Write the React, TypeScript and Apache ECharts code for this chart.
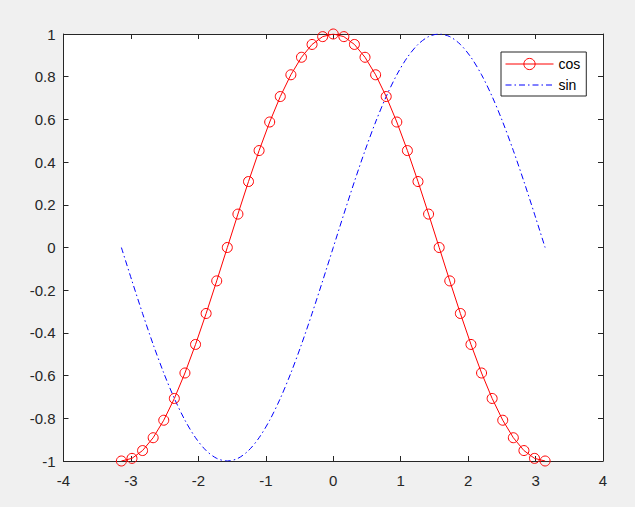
import React, { useEffect, useRef } from "react";
import * as echarts from "echarts";

const xValues = [
  -3.1416, -2.9845, -2.8274, -2.6704, -2.5133, -2.3562, -2.1991, -2.042, -1.885, -1.7279,
  -1.5708, -1.4137, -1.2566, -1.0996, -0.9425, -0.7854, -0.6283, -0.4712, -0.3142, -0.1571,
  0, 0.1571, 0.3142, 0.4712, 0.6283, 0.7854, 0.9425, 1.0996, 1.2566, 1.4137,
  1.5708, 1.7279, 1.885, 2.042, 2.1991, 2.3562, 2.5133, 2.6704, 2.8274, 2.9845, 3.1416,
];

const cosValues = [
  -1, -0.9877, -0.9511, -0.891, -0.809, -0.7071, -0.5878, -0.454, -0.309, -0.1564,
  0, 0.1564, 0.309, 0.454, 0.5878, 0.7071, 0.809, 0.891, 0.9511, 0.9877,
  1, 0.9877, 0.9511, 0.891, 0.809, 0.7071, 0.5878, 0.454, 0.309, 0.1564,
  0, -0.1564, -0.309, -0.454, -0.5878, -0.7071, -0.809, -0.891, -0.9511, -0.9877, -1,
];

const sinValues = [
  0, -0.1564, -0.309, -0.454, -0.5878, -0.7071, -0.809, -0.891, -0.9511, -0.9877,
  -1, -0.9877, -0.9511, -0.891, -0.809, -0.7071, -0.5878, -0.454, -0.309, -0.1564,
  0, 0.1564, 0.309, 0.454, 0.5878, 0.7071, 0.809, 0.891, 0.9511, 0.9877,
  1, 0.9877, 0.9511, 0.891, 0.809, 0.7071, 0.5878, 0.454, 0.309, 0.1564, 0,
];

const seriesNames = ["cos", "sin"];

const AX = "#262626";
const FONT = "Liberation Sans, Arial, Helvetica, sans-serif";
const SIN_DASH = [6, 3, 1.5, 3];

export default function App() {
  const ref = useRef<HTMLDivElement>(null);
  useEffect(() => {
    document.body.style.margin = "0";
    const chart = echarts.init(ref.current!, null, { renderer: "svg" });
    const tickInside = { show: true, inside: true, length: 5, lineStyle: { color: AX, width: 1 } };
    const xBase = { type: "value", min: -4, max: 4, interval: 1, splitLine: { show: false } };
    const yBase = { type: "value", min: -1, max: 1, interval: 0.2, splitLine: { show: false } };
    chart.setOption({
      animation: false,
      backgroundColor: "#f0f0f0",
      textStyle: { fontFamily: FONT },
      grid: {
        left: 63.5,
        right: 32,
        top: 34,
        bottom: 46,
        show: true,
        backgroundColor: "#ffffff",
        borderWidth: 0,
      },
      legend: {
        orient: "vertical",
        left: 501,
        top: 52,
        padding: [5, 6, 4, 4],
        itemWidth: 48,
        itemHeight: 14,
        itemGap: 7,
        backgroundColor: "#ffffff",
        borderColor: AX,
        borderWidth: 1,
        borderRadius: 0,
        textStyle: { fontSize: 14, color: "#000000", fontFamily: FONT },
        data: [
          {
            name: seriesNames[0],
            itemStyle: { color: "rgba(0,0,0,0)", borderColor: "#ff0000", borderWidth: 1 },
            lineStyle: { color: "#ff0000", width: 1 },
          },
          {
            name: seriesNames[1],
            itemStyle: { opacity: 0, borderWidth: 0 },
            lineStyle: { color: "#0000ff", width: 1, type: SIN_DASH },
          },
        ],
      },
      xAxis: [
        {
          ...xBase,
          position: "bottom",
          axisLine: { show: true, onZero: false, lineStyle: { color: AX, width: 1 } },
          axisTick: tickInside,
          axisLabel: { color: AX, fontSize: 15, margin: 12, fontFamily: FONT },
        },
        {
          ...xBase,
          position: "top",
          axisLine: { show: true, onZero: false, lineStyle: { color: AX, width: 1 } },
          axisTick: tickInside,
          axisLabel: { show: false },
        },
      ],
      yAxis: [
        {
          ...yBase,
          position: "left",
          axisLine: { show: true, onZero: false, lineStyle: { color: AX, width: 1 } },
          axisTick: tickInside,
          axisLabel: { color: AX, fontSize: 15, margin: 8, fontFamily: FONT },
        },
        {
          ...yBase,
          position: "right",
          axisLine: { show: true, onZero: false, lineStyle: { color: AX, width: 1 } },
          axisTick: tickInside,
          axisLabel: { show: false },
        },
      ],
      series: [
        {
          name: seriesNames[0],
          type: "line",
          xAxisIndex: 0,
          yAxisIndex: 0,
          data: xValues.map((x, i) => [x, cosValues[i]]),
          symbol: "circle",
          symbolSize: 10,
          showAllSymbol: true,
          lineStyle: { color: "#ff0000", width: 1 },
          itemStyle: { color: "rgba(0,0,0,0)", borderColor: "#ff0000", borderWidth: 1 },
          emphasis: { disabled: true },
          z: 3,
        },
        {
          name: seriesNames[1],
          type: "line",
          xAxisIndex: 0,
          yAxisIndex: 0,
          data: xValues.map((x, i) => [x, sinValues[i]]),
          symbol: "none",
          smooth: 0.3,
          lineStyle: { color: "#0000ff", width: 1, type: SIN_DASH },
          itemStyle: { color: "#0000ff" },
          emphasis: { disabled: true },
          z: 2,
        },
      ],
    });
    return () => chart.dispose();
  }, []);
  return (
    <div
      ref={ref}
      style={{ position: "fixed", left: 0, top: 0, width: 635, height: 507 }}
    />
  );
}
